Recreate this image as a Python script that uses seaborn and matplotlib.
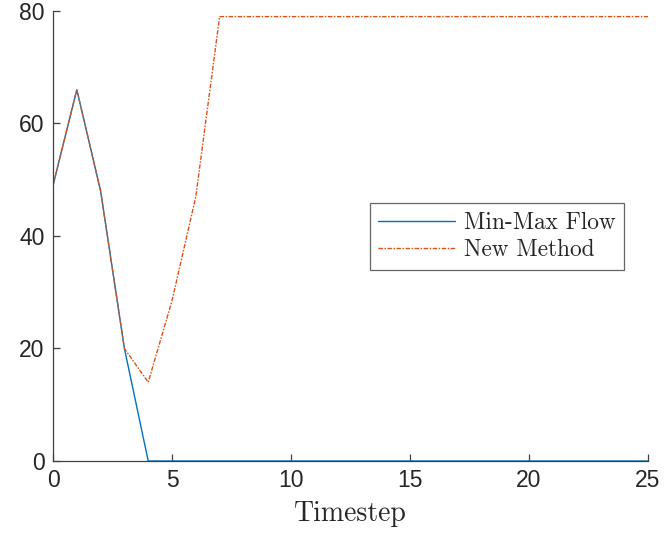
import matplotlib
matplotlib.use("Agg")
import matplotlib.pyplot as plt
import seaborn as sns
import pandas as pd

# Flow per timestep for the two strategies
timesteps = list(range(0, 26))
minmax_flow = [49, 66, 48, 20, 0] + [0] * 21
new_method = [49, 66, 48, 20, 14, 28.5, 47] + [79] * 19

series_names = ["Min-Max Flow", "New Method"]
x_ticks = [0, 5, 10, 15, 20, 25]
y_ticks = [0, 20, 40, 60, 80]

sns.set_style("white")
plt.rcParams["font.family"] = ["Liberation Sans", "DejaVu Sans"]

df = pd.DataFrame({
    "Timestep": timesteps * 2,
    "Flow": minmax_flow + new_method,
    "Series": [series_names[0]] * len(timesteps) + [series_names[1]] * len(timesteps),
})

fig = plt.figure(figsize=(6.66, 5.44), dpi=100)
ax = fig.add_axes([0.0796, 0.1526, 0.8934, 0.8272])

palette = {series_names[0]: "#0072BD", series_names[1]: "#D95319"}
sns.lineplot(data=df[df["Series"] == series_names[0]], x="Timestep", y="Flow",
             color=palette[series_names[0]], linewidth=1.0, ax=ax,
             label=series_names[0])
sns.lineplot(data=df[df["Series"] == series_names[1]], x="Timestep", y="Flow",
             color=palette[series_names[1]], linewidth=1.0, ax=ax,
             linestyle=(0, (3.2, 1.1, 1.1, 1.1)), label=series_names[1])

ax.set_xlim(0, 25)
ax.set_ylim(0, 80)
ax.set_xticks(x_ticks)
ax.set_yticks(y_ticks)
ax.set_ylabel("")
ax.set_xlabel("Timestep", fontfamily="cmr10", fontsize=20, labelpad=6)

for side in ["top", "right"]:
    ax.spines[side].set_visible(False)
for side in ["left", "bottom"]:
    ax.spines[side].set_color("#404040")
    ax.spines[side].set_linewidth(0.9)

ax.tick_params(axis="both", which="major", bottom=True, left=True,
               direction="in", length=5, width=0.9,
               color="#404040", labelsize=16.5, labelcolor="#262626", pad=6)

leg = ax.legend(loc="upper left", bbox_to_anchor=(0.532, 0.573),
                prop={"family": "cmr10", "size": 16.8},
                frameon=True, fancybox=False, edgecolor="#404040",
                handlelength=3.3, borderpad=0.38, labelspacing=0.22, handletextpad=0.35,
                borderaxespad=0)
leg.get_frame().set_linewidth(0.9)

fig.savefig("out.png", dpi=100)
